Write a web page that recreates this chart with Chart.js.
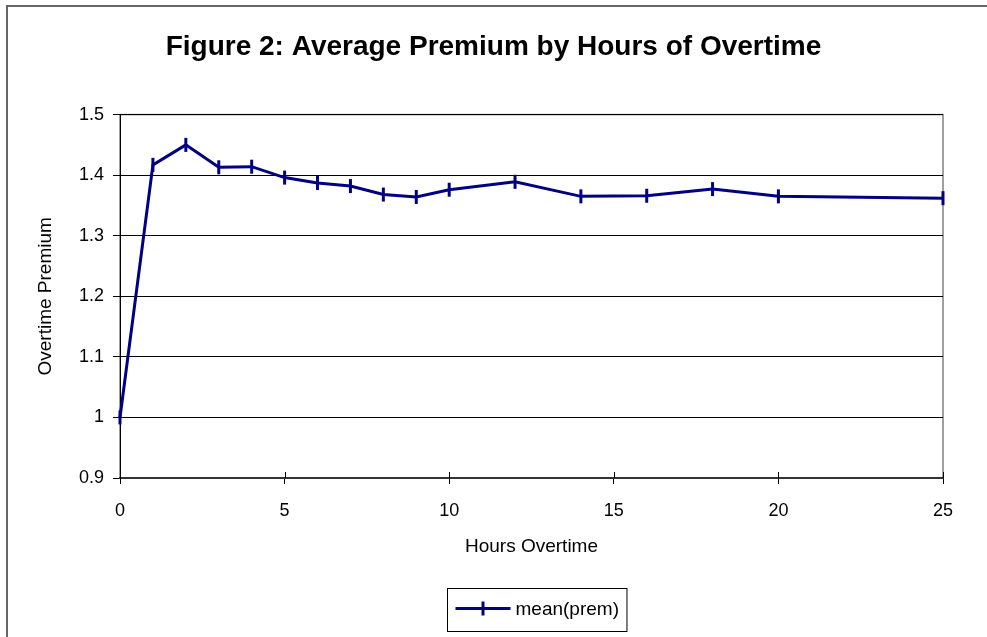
<!DOCTYPE html>
<html>
<head>
<meta charset="utf-8">
<title>Figure 2: Average Premium by Hours of Overtime</title>
<script src="https://cdn.jsdelivr.net/npm/chart.js@4.4.1/dist/chart.umd.min.js"></script>
<style>
    body { margin: 0; background: #fff; }
    canvas { display: block; }
</style>
</head>
<body>
<canvas id="chart" width="987" height="637"></canvas>
<script>
// hours of overtime (x) and mean premium (y)
const hours = [0, 1, 2, 3, 4, 5, 6, 7, 8, 9, 10, 12, 14, 16, 18, 20, 25];
const meanPrem = [1.0, 1.417, 1.45, 1.413, 1.414, 1.396, 1.387, 1.382, 1.368, 1.364, 1.376, 1.389, 1.365, 1.366, 1.377, 1.365, 1.362];
const xTicks = [0, 5, 10, 15, 20, 25];
const yTicks = [0.9, 1.0, 1.1, 1.2, 1.3, 1.4, 1.5];

const navy = '#000080';
const fontFamily = '"Liberation Sans", Arial, sans-serif';

Chart.defaults.font.family = fontFamily;
Chart.defaults.color = '#000';

// outer frame + grey plot area border, drawn before the axes
const framePlugin = {
    id: 'frame',
    beforeDraw(chart) {
        const ctx = chart.ctx;
        const a = chart.chartArea;
        ctx.save();
        ctx.strokeStyle = '#666';
        ctx.lineWidth = 2;
        ctx.beginPath();
        ctx.moveTo(7, chart.height + 2);
        ctx.lineTo(7, 6);
        ctx.lineTo(chart.width + 2, 6);
        ctx.stroke();
        ctx.strokeStyle = '#808080';
        ctx.lineWidth = 1.5;
        ctx.strokeRect(a.left, a.top, a.right - a.left, a.bottom - a.top);
        ctx.restore();
    }
};

// x ticks cross the axis, and the boxed legend under the axis title
const extrasPlugin = {
    id: 'extras',
    afterDraw(chart) {
        const ctx = chart.ctx;
        const x = chart.scales.x;
        ctx.save();
        ctx.strokeStyle = '#000';
        ctx.lineWidth = 1;
        xTicks.forEach(v => {
            const px = Math.round(x.getPixelForValue(v)) + 0.5;
            ctx.beginPath();
            ctx.moveTo(px, x.top - 6);
            ctx.lineTo(px, x.top);
            ctx.stroke();
        });

        // legend
        const ds = chart.data.datasets[0];
        ctx.font = '19px ' + fontFamily;
        const tw = ctx.measureText(ds.label).width;
        const lineLen = 55;
        const boxW = 8 + lineLen + 5 + tw + 8;
        const boxH = 43;
        const cx = (chart.chartArea.left + chart.chartArea.right) / 2 + 5;
        const left = Math.round(cx - boxW / 2) + 0.5;
        const top = Math.round(x.bottom + 30) + 0.5;
        ctx.strokeStyle = '#000';
        ctx.lineWidth = 1;
        ctx.strokeRect(left, top, boxW, boxH);
        const my = top + 20;
        ctx.strokeStyle = ds.borderColor;
        ctx.lineWidth = 3;
        ctx.beginPath();
        ctx.moveTo(left + 8, my);
        ctx.lineTo(left + 8 + lineLen, my);
        ctx.stroke();
        ctx.beginPath();
        ctx.moveTo(left + 8 + lineLen / 2, my - 7);
        ctx.lineTo(left + 8 + lineLen / 2, my + 7);
        ctx.stroke();
        ctx.fillStyle = '#000';
        ctx.textBaseline = 'middle';
        ctx.textAlign = 'left';
        ctx.fillText(ds.label, left + 8 + lineLen + 5, my + 1);
        ctx.restore();
    }
};

const ctx = document.getElementById('chart').getContext('2d');

new Chart(ctx, {
    type: 'line',
    data: {
        datasets: [{
            label: 'mean(prem)',
            data: hours.map((h, i) => ({ x: h, y: meanPrem[i] })),
            borderColor: navy,
            backgroundColor: navy,
            borderWidth: 3,
            tension: 0,
            fill: false,
            clip: false,
            pointStyle: 'line',
            pointRotation: 90,
            pointRadius: 7,
            pointBorderWidth: 3,
            pointBorderColor: navy,
            pointHoverRadius: 7
        }]
    },
    options: {
        responsive: false,
        animation: false,
        devicePixelRatio: 1,
        events: [],
        layout: {
            padding: { left: 0, right: 0, top: 0, bottom: 79 }
        },
        plugins: {
            legend: { display: false },
            tooltip: { enabled: false },
            title: {
                display: true,
                text: 'Figure 2: Average Premium by Hours of Overtime',
                color: '#000',
                font: { size: 28, weight: 'bold', family: fontFamily },
                padding: { top: 30, bottom: 51 }
            }
        },
        scales: {
            x: {
                type: 'linear',
                min: 0,
                max: 25,
                afterBuildTicks: s => { s.ticks = xTicks.map(v => ({ value: v })); },
                afterFit: s => { s.height = 80; },
                ticks: {
                    font: { size: 18 },
                    padding: 16,
                    maxRotation: 0,
                    callback: v => String(v)
                },
                grid: {
                    display: true,
                    drawOnChartArea: false,
                    drawTicks: true,
                    tickLength: 6,
                    tickColor: '#000'
                },
                border: { display: true, color: '#333', width: 2 },
                title: {
                    display: true,
                    text: 'Hours Overtime',
                    font: { size: 19 },
                    padding: { top: 0, bottom: 0 }
                }
            },
            y: {
                type: 'linear',
                min: 0.9,
                max: 1.5,
                afterBuildTicks: s => { s.ticks = yTicks.map(v => ({ value: v })); },
                afterFit: s => { s.width = 120; },
                ticks: {
                    font: { size: 18 },
                    padding: 9,
                    callback: v => String(v)
                },
                grid: {
                    display: true,
                    color: '#000',
                    lineWidth: 1,
                    drawTicks: true,
                    tickLength: 7,
                    tickColor: '#000'
                },
                border: { display: true, color: '#000', width: 1 },
                title: {
                    display: true,
                    text: 'Overtime Premium',
                    font: { size: 19 },
                    padding: { top: 34, bottom: 0 }
                }
            },
            // empty right-hand strip so the plot ends where the original does
            y2: {
                type: 'linear',
                position: 'right',
                display: true,
                afterFit: s => { s.width = 44; },
                ticks: { display: false },
                grid: { display: false },
                border: { display: false }
            }
        }
    },
    plugins: [framePlugin, extrasPlugin]
});
</script>
</body>
</html>
